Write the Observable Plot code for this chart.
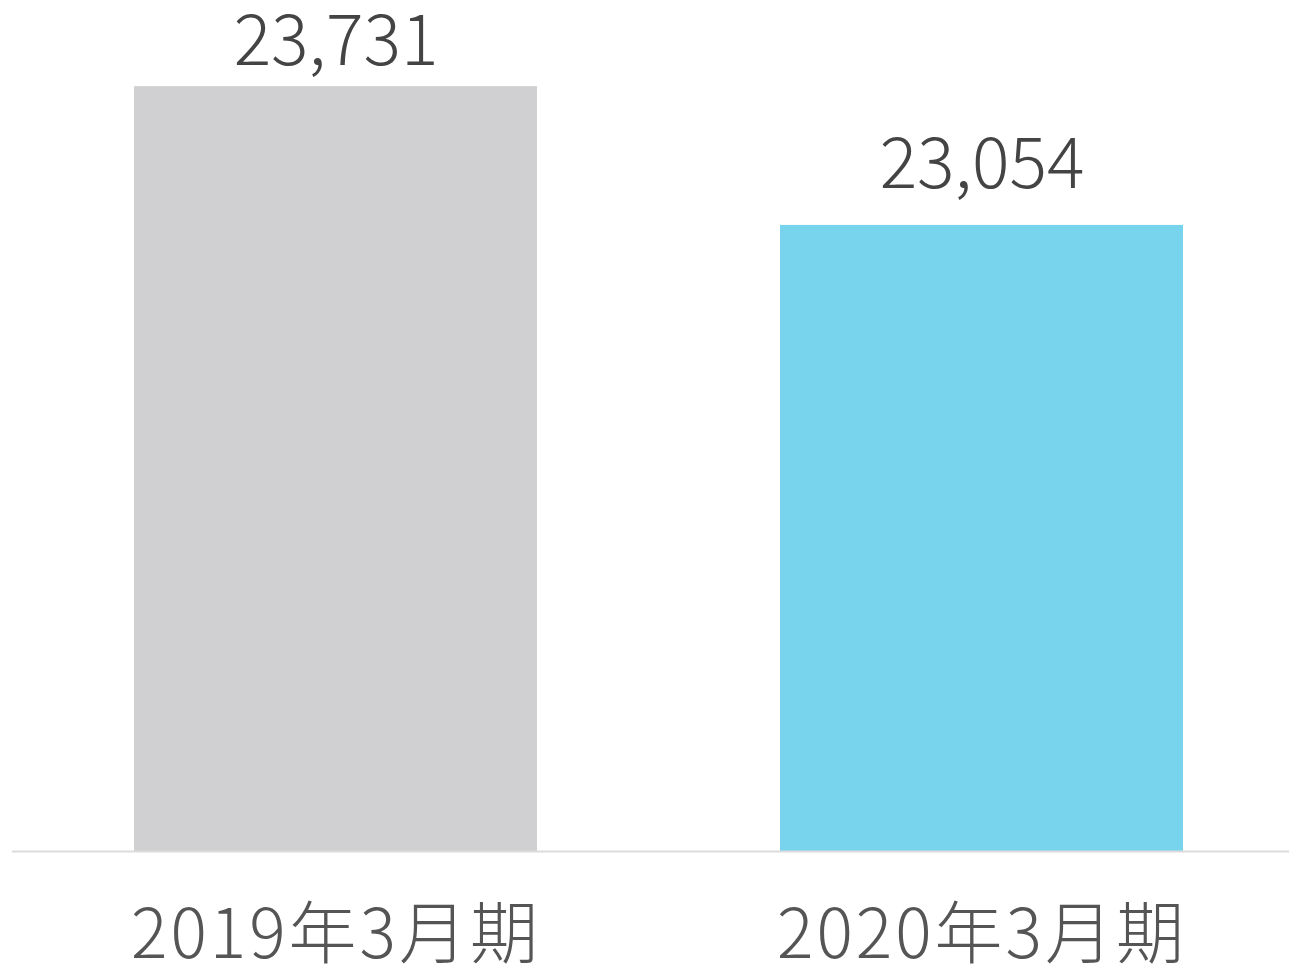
<!DOCTYPE html>
<html>
<head>
<meta charset="utf-8">
<script src="https://cdn.jsdelivr.net/npm/d3@7"></script>
<script src="https://cdn.jsdelivr.net/npm/@observablehq/plot@0.6"></script>
<style>
  html, body { margin: 0; padding: 0; background: #fff; }
  svg { display: block; }
  g[aria-label="x-axis tick label"] text { letter-spacing: 3px; }
</style>
</head>
<body>
<div id="chart"></div>
<script>
const periods = ["2019年3月期", "2020年3月期"];
const values = [23731, 23054];
const colors = ["#d0cfd1", "#78d3ec"];
const yBase = 20000;
const yTop = 24000;

const data = periods.map((p, i) => ({period: p, value: values[i], color: colors[i]}));
const fmt = d3.format(",");

const chart = Plot.plot({
  width: 1289,
  height: 967,
  marginTop: 31,
  marginBottom: 116,
  marginLeft: 12,
  marginRight: 0,
  style: {fontFamily: "'Noto Sans CJK JP', 'Noto Sans', sans-serif", fontWeight: 300, background: "#fff"},
  x: {domain: periods, paddingInner: 0.376, paddingOuter: 0.175, align: 0.535, label: null},
  y: {domain: [yBase, yTop], axis: null},
  marks: [
    Plot.barY(data, {x: "period", y1: () => yBase, y2: "value", fill: "color"}),
    Plot.ruleY([yBase], {stroke: "#dcdcdc", strokeWidth: 2}),
    Plot.text(data.filter((d, i) => i === 0), {x: "period", y: "value", text: d => fmt(d.value), dy: -22, lineAnchor: "bottom", fontSize: 70, fill: "#444", fontWeight: 300}),
    Plot.text(data.filter((d, i) => i === 1), {x: "period", y: "value", text: d => fmt(d.value), dy: -37, lineAnchor: "bottom", fontSize: 70, fill: "#444", fontWeight: 300}),
    Plot.axisX({tickSize: 0, tickPadding: 58, fontSize: 68, fill: "#555", label: null, fontWeight: 300})
  ]
});
document.getElementById("chart").appendChild(chart);
</script>
</body>
</html>
